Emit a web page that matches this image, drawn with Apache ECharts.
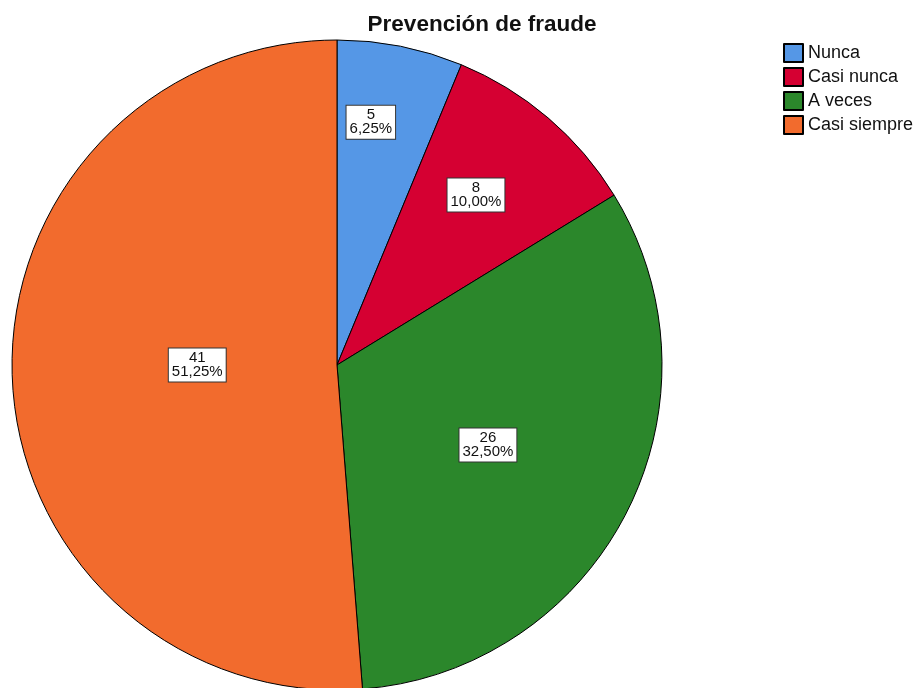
<!DOCTYPE html>
<html>
<head>
<meta charset="utf-8">
<script src="https://cdn.jsdelivr.net/npm/echarts@6/dist/echarts.min.js"></script>
<style>
  html, body { margin: 0; padding: 0; background: #fff; }
  #main { width: 917px; height: 688px; }
</style>
</head>
<body>
<div id="main"></div>
<script>
const categories = ['Nunca', 'Casi nunca', 'A veces', 'Casi siempre']
const counts = [5, 8, 26, 41]
const colors = ['#5597E6', '#D50032', '#2B872B', '#F26B2D']
// where each label box sits: angle clockwise from top (deg), fraction of radius
const labelAngle = [7.9, 39.1, 117.6, 270.4]
const labelRadius = [0.757, 0.678, 0.524, 0.43]

const cx = 337
const cy = 365
const R = 325

let chartDom = document.getElementById('main')
let myChart = echarts.init(chartDom)

const labelLayout = (params) => {
    let i = params.dataIndex
    let a = labelAngle[i] * Math.PI / 180
    let r = R * labelRadius[i]
    return {
        x: cx + r * Math.sin(a),
        y: cy - r * Math.cos(a) + 1,
        align: 'center',
        verticalAlign: 'middle'
    }
}

let option = {
    animation: false,
    title: {
        text: 'Prevención de fraude',
        left: 477,
        textAlign: 'center',
        top: 8,
        textStyle: {
            fontFamily: 'Liberation Sans',
            fontSize: 22.5,
            fontWeight: 'bold',
            color: '#111'
        }
    },
    legend: {
        orient: 'vertical',
        left: 783,
        top: 43,
        padding: 0,
        icon: 'rect',
        itemWidth: 19,
        itemHeight: 18,
        itemGap: 4,
        textStyle: {
            fontFamily: 'Liberation Sans',
            fontSize: 18,
            lineHeight: 18,
            color: '#111'
        },
        data: categories
    },
    series: [
        {
            type: 'pie',
            center: [cx, cy],
            radius: R,
            startAngle: 90,
            clockwise: true,
            itemStyle: {
                borderColor: '#000',
                borderWidth: 1
            },
            label: {
                show: true,
                position: 'inside',
                formatter: (p) => p.value + '\n' + p.percent.toFixed(2).replace('.', ',') + '%',
                fontFamily: 'Liberation Sans',
                fontSize: 15,
                lineHeight: 14,
                color: '#111',
                backgroundColor: '#fff',
                borderColor: '#333',
                borderWidth: 1,
                padding: [3, 3, 2, 3]
            },
            labelLayout: labelLayout,
            labelLine: { show: false },
            emphasis: { disabled: true },
            data: categories.map((name, i) => ({
                name: name,
                value: counts[i],
                itemStyle: { color: colors[i] }
            }))
        }
    ]
}

option && myChart.setOption(option)
</script>
</body>
</html>
